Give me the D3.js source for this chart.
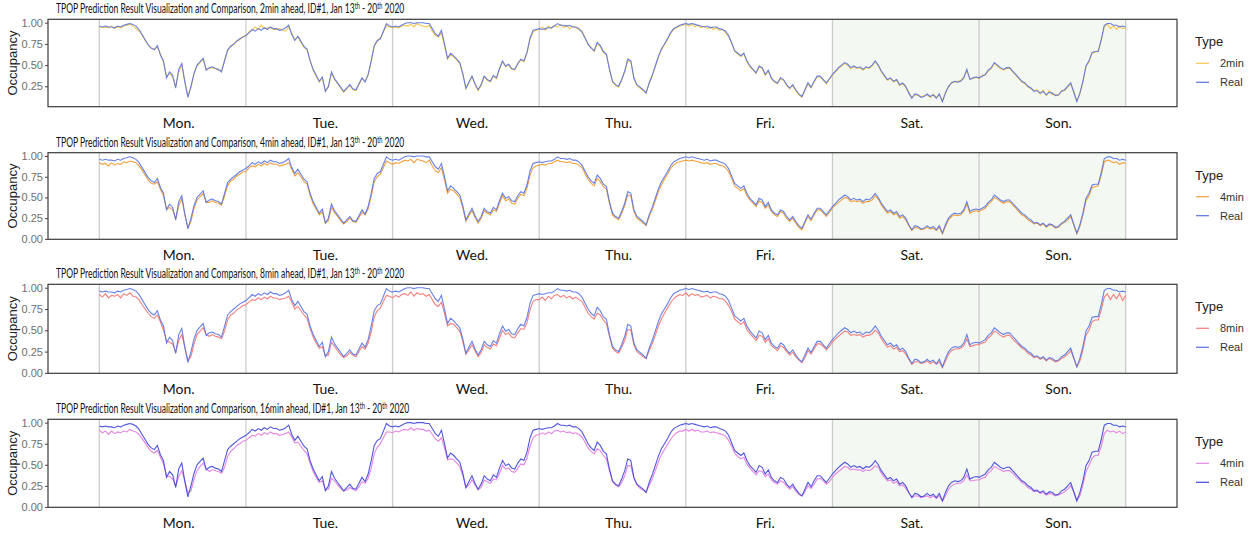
<!DOCTYPE html>
<html>
<head>
<meta charset="utf-8">
<script src="https://cdn.jsdelivr.net/npm/d3@7"></script>
<style>
  body { margin: 0; background: #fff; }
  svg { display: block; }
</style>
</head>
<body>
<div id="chart"></div>
<script>
// half-hourly occupancy, Mon 13 Jan 00:00 -> Mon 20 Jan 00:00
const days = ["Mon.", "Tue.", "Wed.", "Thu.", "Fri.", "Sat.", "Son."];
const horizons = ["2min", "4min", "8min", "16min"];
const legendNames = ["2min", "4min", "8min", "4min"];
const yTicksFirst = [0.25, 0.5, 0.75, 1];
const yTicks = [0, 0.25, 0.5, 0.75, 1];

const real = [
  0.96,0.95,0.96,0.95,0.95,0.94,0.96,0.95,0.97,0.98,0.99,0.98,0.96,0.92,0.86,0.80,0.74,0.70,0.68,0.73,0.62,0.55,0.35,0.42,0.38,0.23,0.45,0.52,0.30,0.12,0.25,0.40,0.50,0.54,0.58,0.44,0.47,0.48,0.46,0.45,0.42,0.55,0.68,0.72,0.75,0.78,0.81,0.83,
  0.85,0.88,0.92,0.90,0.93,0.91,0.94,0.92,0.95,0.93,0.93,0.91,0.92,0.94,0.97,0.86,0.79,0.84,0.78,0.72,0.69,0.55,0.45,0.38,0.31,0.36,0.19,0.25,0.42,0.34,0.29,0.24,0.19,0.23,0.27,0.22,0.21,0.28,0.35,0.30,0.39,0.55,0.73,0.79,0.81,0.90,0.99,0.96,
  0.95,0.96,0.95,0.97,0.99,1.00,1.00,0.99,1.00,1.00,1.00,0.99,0.99,0.93,0.87,0.84,0.91,0.75,0.58,0.64,0.61,0.57,0.53,0.40,0.23,0.30,0.37,0.28,0.21,0.27,0.37,0.33,0.31,0.38,0.35,0.46,0.55,0.49,0.51,0.46,0.45,0.52,0.57,0.55,0.65,0.82,0.91,0.92,
  0.93,0.92,0.93,0.94,0.94,0.96,0.99,0.97,0.97,0.96,0.97,0.95,0.95,0.93,0.89,0.82,0.75,0.70,0.67,0.77,0.73,0.66,0.63,0.45,0.31,0.27,0.25,0.33,0.43,0.57,0.55,0.35,0.27,0.24,0.21,0.17,0.29,0.38,0.49,0.60,0.69,0.75,0.81,0.88,0.93,0.95,0.97,0.98,
  0.99,0.98,0.99,0.98,0.97,0.96,0.95,0.96,0.94,0.95,0.95,0.93,0.92,0.90,0.85,0.76,0.67,0.64,0.61,0.64,0.55,0.49,0.45,0.41,0.49,0.47,0.39,0.44,0.35,0.31,0.29,0.35,0.33,0.27,0.23,0.27,0.21,0.16,0.13,0.21,0.29,0.24,0.31,0.37,0.37,0.33,0.29,0.34,
  0.39,0.43,0.47,0.50,0.53,0.51,0.47,0.49,0.47,0.48,0.45,0.48,0.47,0.50,0.55,0.50,0.43,0.38,0.33,0.35,0.31,0.33,0.27,0.29,0.25,0.17,0.11,0.16,0.15,0.12,0.13,0.16,0.13,0.15,0.11,0.16,0.07,0.17,0.25,0.29,0.31,0.30,0.31,0.35,0.45,0.33,0.35,0.36,
  0.35,0.37,0.39,0.44,0.47,0.53,0.50,0.47,0.45,0.47,0.47,0.43,0.39,0.35,0.31,0.29,0.25,0.23,0.19,0.20,0.17,0.19,0.15,0.18,0.17,0.14,0.15,0.19,0.21,0.25,0.29,0.18,0.07,0.17,0.31,0.49,0.55,0.65,0.66,0.66,0.80,0.97,0.99,0.99,0.97,0.97,0.95,0.96,0.95
];

const pred2 = [
  0.95,0.94,0.95,0.94,0.96,0.93,0.95,0.94,0.96,0.97,0.98,0.96,0.93,0.90,0.86,0.79,0.74,0.70,0.69,0.71,0.63,0.54,0.37,0.40,0.36,0.25,0.42,0.50,0.31,0.14,0.23,0.41,0.49,0.53,0.57,0.45,0.46,0.47,0.46,0.44,0.43,0.56,0.67,0.73,0.74,0.79,0.80,0.84,
  0.84,0.89,0.91,0.95,0.92,0.97,0.93,0.94,0.94,0.92,0.92,0.93,0.91,0.90,0.95,0.88,0.80,0.83,0.77,0.71,0.68,0.56,0.44,0.37,0.30,0.35,0.20,0.24,0.40,0.33,0.28,0.23,0.18,0.22,0.26,0.21,0.20,0.27,0.34,0.31,0.38,0.54,0.72,0.78,0.82,0.89,0.97,0.95,
  0.94,0.95,0.94,0.96,0.97,0.96,0.98,0.95,0.99,0.97,0.96,0.95,0.97,0.90,0.85,0.83,0.88,0.73,0.57,0.62,0.60,0.56,0.52,0.39,0.22,0.29,0.36,0.27,0.20,0.26,0.36,0.32,0.30,0.37,0.34,0.45,0.54,0.48,0.50,0.45,0.44,0.51,0.56,0.54,0.64,0.80,0.89,0.91,
  0.92,0.95,0.91,0.96,0.93,0.97,0.95,0.98,0.94,0.97,0.93,0.96,0.94,0.92,0.90,0.83,0.74,0.71,0.66,0.75,0.72,0.65,0.62,0.46,0.30,0.26,0.24,0.32,0.42,0.55,0.54,0.34,0.26,0.23,0.20,0.18,0.28,0.37,0.48,0.59,0.68,0.74,0.80,0.87,0.92,0.94,0.96,0.97,
  0.98,0.96,0.98,0.95,0.97,0.94,0.96,0.93,0.95,0.92,0.94,0.91,0.92,0.88,0.84,0.77,0.66,0.63,0.60,0.63,0.54,0.48,0.44,0.40,0.48,0.46,0.38,0.43,0.34,0.30,0.28,0.34,0.32,0.26,0.22,0.26,0.20,0.15,0.12,0.20,0.28,0.23,0.30,0.36,0.36,0.32,0.28,0.33,
  0.38,0.42,0.46,0.49,0.52,0.50,0.46,0.48,0.46,0.47,0.44,0.47,0.46,0.49,0.54,0.49,0.42,0.37,0.32,0.34,0.30,0.32,0.26,0.28,0.24,0.18,0.12,0.15,0.14,0.13,0.14,0.15,0.12,0.16,0.12,0.15,0.08,0.18,0.24,0.30,0.30,0.31,0.32,0.36,0.43,0.34,0.34,0.36,
  0.34,0.38,0.38,0.43,0.46,0.52,0.49,0.46,0.44,0.46,0.46,0.42,0.38,0.34,0.30,0.28,0.24,0.22,0.20,0.21,0.16,0.21,0.14,0.20,0.15,0.16,0.14,0.20,0.20,0.24,0.28,0.19,0.08,0.16,0.30,0.48,0.54,0.64,0.65,0.67,0.79,0.95,0.98,0.93,0.96,0.92,0.96,0.93,0.94
];

const pred4 = [
  0.92,0.90,0.91,0.88,0.92,0.89,0.91,0.90,0.93,0.92,0.94,0.93,0.92,0.88,0.83,0.77,0.71,0.67,0.66,0.69,0.60,0.52,0.36,0.38,0.35,0.24,0.40,0.48,0.29,0.14,0.21,0.37,0.47,0.51,0.55,0.44,0.44,0.46,0.44,0.43,0.41,0.52,0.64,0.70,0.72,0.76,0.78,0.81,
  0.81,0.86,0.88,0.87,0.90,0.88,0.91,0.89,0.92,0.90,0.90,0.88,0.89,0.90,0.92,0.84,0.76,0.80,0.75,0.69,0.66,0.53,0.42,0.36,0.29,0.33,0.19,0.22,0.38,0.32,0.27,0.22,0.18,0.21,0.25,0.21,0.20,0.26,0.32,0.29,0.36,0.51,0.69,0.75,0.78,0.86,0.94,0.92,
  0.90,0.92,0.91,0.93,0.95,0.94,0.96,0.92,0.96,0.95,0.94,0.92,0.95,0.88,0.82,0.80,0.86,0.71,0.55,0.60,0.58,0.54,0.50,0.37,0.21,0.28,0.34,0.26,0.19,0.25,0.34,0.31,0.29,0.35,0.33,0.43,0.52,0.46,0.48,0.43,0.42,0.49,0.54,0.52,0.61,0.77,0.86,0.88,
  0.89,0.90,0.89,0.91,0.91,0.93,0.95,0.93,0.93,0.92,0.93,0.91,0.91,0.89,0.86,0.79,0.72,0.67,0.64,0.73,0.69,0.63,0.60,0.43,0.29,0.25,0.23,0.31,0.40,0.53,0.52,0.33,0.25,0.22,0.19,0.16,0.27,0.35,0.46,0.57,0.65,0.72,0.78,0.85,0.89,0.92,0.93,0.94,
  0.95,0.94,0.95,0.94,0.93,0.92,0.91,0.92,0.90,0.91,0.91,0.89,0.88,0.86,0.81,0.73,0.64,0.61,0.58,0.61,0.52,0.47,0.43,0.39,0.46,0.44,0.37,0.41,0.33,0.29,0.27,0.33,0.31,0.25,0.21,0.25,0.19,0.14,0.11,0.19,0.27,0.22,0.29,0.35,0.35,0.31,0.27,0.32,
  0.37,0.41,0.44,0.47,0.50,0.49,0.45,0.46,0.45,0.46,0.43,0.45,0.45,0.47,0.52,0.48,0.41,0.36,0.31,0.33,0.29,0.31,0.25,0.27,0.23,0.16,0.10,0.14,0.13,0.11,0.12,0.14,0.12,0.13,0.10,0.14,0.06,0.15,0.23,0.27,0.29,0.28,0.29,0.33,0.42,0.31,0.33,0.34,
  0.33,0.35,0.37,0.42,0.45,0.50,0.48,0.45,0.43,0.45,0.45,0.41,0.37,0.33,0.29,0.27,0.23,0.21,0.18,0.19,0.16,0.18,0.14,0.17,0.16,0.13,0.14,0.18,0.20,0.23,0.27,0.17,0.06,0.15,0.29,0.46,0.52,0.62,0.63,0.64,0.77,0.93,0.95,0.94,0.92,0.93,0.90,0.92,0.91
];

const pred8 = [
  0.92,0.89,0.93,0.88,0.91,0.90,0.92,0.88,0.93,0.91,0.94,0.90,0.89,0.86,0.80,0.75,0.70,0.66,0.64,0.68,0.60,0.50,0.38,0.36,0.34,0.24,0.38,0.45,0.30,0.15,0.19,0.34,0.45,0.49,0.53,0.45,0.43,0.45,0.43,0.42,0.40,0.49,0.62,0.68,0.70,0.74,0.76,0.79,
  0.80,0.83,0.86,0.85,0.88,0.86,0.89,0.87,0.90,0.88,0.88,0.86,0.87,0.88,0.90,0.83,0.75,0.78,0.73,0.68,0.64,0.52,0.42,0.35,0.29,0.31,0.20,0.21,0.36,0.31,0.26,0.21,0.18,0.20,0.24,0.21,0.19,0.25,0.31,0.28,0.35,0.48,0.66,0.73,0.76,0.84,0.91,0.90,
  0.88,0.91,0.89,0.92,0.93,0.91,0.95,0.90,0.94,0.92,0.93,0.90,0.92,0.86,0.80,0.78,0.83,0.70,0.55,0.58,0.57,0.53,0.49,0.37,0.22,0.27,0.33,0.26,0.19,0.24,0.33,0.30,0.28,0.34,0.32,0.41,0.50,0.45,0.47,0.42,0.41,0.47,0.52,0.51,0.59,0.74,0.84,0.86,
  0.86,0.89,0.85,0.90,0.87,0.91,0.92,0.89,0.91,0.88,0.90,0.87,0.89,0.86,0.84,0.77,0.70,0.66,0.63,0.70,0.68,0.62,0.58,0.43,0.29,0.25,0.23,0.30,0.38,0.51,0.50,0.33,0.25,0.22,0.19,0.17,0.26,0.34,0.44,0.55,0.63,0.70,0.76,0.82,0.87,0.90,0.92,0.91,
  0.94,0.90,0.93,0.91,0.92,0.89,0.90,0.91,0.88,0.90,0.89,0.87,0.87,0.84,0.79,0.72,0.63,0.60,0.57,0.60,0.51,0.46,0.42,0.38,0.44,0.43,0.36,0.40,0.32,0.29,0.26,0.32,0.30,0.25,0.21,0.24,0.19,0.15,0.12,0.18,0.26,0.22,0.28,0.34,0.34,0.31,0.27,0.31,
  0.36,0.40,0.43,0.46,0.49,0.48,0.44,0.45,0.44,0.45,0.42,0.44,0.44,0.46,0.50,0.47,0.40,0.35,0.30,0.32,0.28,0.30,0.25,0.26,0.22,0.16,0.10,0.13,0.13,0.11,0.12,0.14,0.11,0.13,0.10,0.13,0.06,0.14,0.22,0.26,0.28,0.28,0.29,0.32,0.40,0.31,0.32,0.33,
  0.33,0.35,0.36,0.41,0.44,0.49,0.47,0.44,0.42,0.44,0.44,0.40,0.36,0.33,0.29,0.27,0.23,0.21,0.18,0.19,0.16,0.18,0.14,0.17,0.15,0.13,0.14,0.17,0.19,0.22,0.26,0.17,0.07,0.14,0.27,0.44,0.50,0.60,0.62,0.62,0.74,0.89,0.93,0.86,0.92,0.87,0.93,0.85,0.91
];

const pred16 = [
  0.91,0.88,0.90,0.86,0.90,0.87,0.89,0.88,0.90,0.89,0.92,0.90,0.89,0.86,0.81,0.76,0.70,0.66,0.64,0.67,0.59,0.51,0.37,0.36,0.33,0.25,0.36,0.43,0.31,0.17,0.19,0.33,0.43,0.48,0.52,0.45,0.42,0.44,0.43,0.42,0.40,0.47,0.60,0.66,0.69,0.73,0.75,0.78,
  0.79,0.82,0.85,0.84,0.87,0.85,0.88,0.86,0.89,0.87,0.87,0.85,0.86,0.87,0.89,0.83,0.76,0.77,0.72,0.67,0.63,0.52,0.42,0.35,0.29,0.31,0.21,0.21,0.34,0.31,0.26,0.22,0.19,0.20,0.23,0.21,0.19,0.24,0.30,0.28,0.34,0.46,0.63,0.71,0.75,0.82,0.89,0.89,
  0.88,0.90,0.89,0.91,0.92,0.91,0.94,0.91,0.93,0.92,0.92,0.90,0.91,0.86,0.81,0.78,0.82,0.70,0.56,0.57,0.56,0.52,0.48,0.37,0.23,0.26,0.32,0.26,0.20,0.23,0.32,0.30,0.28,0.33,0.32,0.40,0.49,0.45,0.46,0.42,0.41,0.46,0.51,0.50,0.58,0.72,0.82,0.85,
  0.86,0.88,0.86,0.89,0.87,0.90,0.91,0.89,0.90,0.88,0.89,0.87,0.88,0.86,0.83,0.77,0.70,0.66,0.63,0.69,0.67,0.61,0.57,0.43,0.30,0.26,0.24,0.29,0.37,0.49,0.49,0.34,0.26,0.22,0.20,0.18,0.25,0.33,0.43,0.53,0.62,0.68,0.74,0.80,0.85,0.88,0.90,0.90,
  0.92,0.90,0.92,0.90,0.91,0.89,0.89,0.90,0.88,0.89,0.88,0.87,0.86,0.84,0.79,0.72,0.64,0.60,0.57,0.59,0.51,0.46,0.42,0.38,0.43,0.42,0.36,0.39,0.32,0.29,0.27,0.31,0.29,0.25,0.21,0.24,0.19,0.15,0.13,0.18,0.25,0.22,0.27,0.33,0.34,0.31,0.27,0.30,
  0.35,0.39,0.42,0.45,0.48,0.47,0.44,0.45,0.44,0.44,0.42,0.44,0.43,0.45,0.49,0.47,0.40,0.35,0.31,0.32,0.28,0.30,0.25,0.26,0.22,0.17,0.11,0.13,0.13,0.11,0.12,0.13,0.11,0.13,0.10,0.13,0.07,0.13,0.21,0.25,0.27,0.28,0.28,0.31,0.38,0.31,0.31,0.32,
  0.32,0.34,0.35,0.40,0.43,0.48,0.46,0.44,0.42,0.43,0.43,0.40,0.36,0.33,0.29,0.27,0.23,0.21,0.18,0.19,0.16,0.17,0.14,0.16,0.15,0.13,0.14,0.16,0.18,0.21,0.25,0.18,0.08,0.13,0.26,0.42,0.49,0.58,0.61,0.61,0.72,0.87,0.91,0.89,0.90,0.88,0.90,0.87,0.89
];

const w = 1257;
const h = 533;

const panels = [
  { top: 19.3, bottom: 106.7, pred: pred2, ticks: yTicksFirst, yDomain: [0.01, 1.04], predColor: "#f7c64a", realColor: "#5673e3" },
  { top: 152.7, bottom: 239.3, pred: pred4, ticks: yTicks, yDomain: [-0.005, 1.04], predColor: "#f2a03c", realColor: "#5673e3" },
  { top: 284.3, bottom: 373.3, pred: pred8, ticks: yTicks, yDomain: [-0.005, 1.04], predColor: "#f5807d", realColor: "#5673e3" },
  { top: 419.3, bottom: 507.3, pred: pred16, ticks: yTicks, yDomain: [-0.005, 1.04], predColor: "#e685e2", realColor: "#3f45d9" }
];

const left = 48, right = 1177;
const x = d3.scaleLinear().domain([-8.4, 176.4]).range([left, right]);

const svg = d3.select("#chart").append("svg")
  .attr("width", w)
  .attr("height", h);

const titleFont = "Lato, 'Open Sans', sans-serif";
const axisFont = "'Liberation Sans', Arial, sans-serif";

panels.forEach(function (p, k) {
  const y = d3.scaleLinear().domain(p.yDomain).range([p.bottom, p.top]);
  const g = svg.append("g");

  // weekend shading
  g.append("rect")
    .attr("x", x(120))
    .attr("y", p.top)
    .attr("width", x(168) - x(120))
    .attr("height", p.bottom - p.top)
    .attr("fill", "#f3f8f2");

  // day boundaries
  g.selectAll("line.day")
    .data(d3.range(0, 8))
    .enter()
    .append("line")
    .attr("class", "day")
    .attr("x1", (d) => x(d * 24))
    .attr("x2", (d) => x(d * 24))
    .attr("y1", p.top)
    .attr("y2", p.bottom)
    .attr("stroke", "#cccccc")
    .attr("stroke-width", 1.3);

  const line = d3.line()
    .x((d, i) => x(i * 0.5))
    .y((d) => y(d));

  g.append("path")
    .datum(p.pred)
    .attr("d", line)
    .attr("fill", "none")
    .attr("stroke", p.predColor)
    .attr("stroke-width", 1.1);

  g.append("path")
    .datum(real)
    .attr("d", line)
    .attr("fill", "none")
    .attr("stroke", p.realColor)
    .attr("stroke-width", 1.1)
    .attr("stroke-opacity", 0.9);

  // frame
  g.append("rect")
    .attr("x", left)
    .attr("y", p.top)
    .attr("width", right - left)
    .attr("height", p.bottom - p.top)
    .attr("fill", "none")
    .attr("stroke", "#3a3a3a")
    .attr("stroke-width", 1.2);

  // y axis
  const yAxis = d3.axisLeft(y)
    .tickValues(p.ticks)
    .tickFormat(d3.format(".2f"))
    .tickSize(3)
    .tickPadding(2);

  const ya = g.append("g")
    .attr("transform", `translate(${left},0)`)
    .call(yAxis);
  ya.select(".domain").remove();
  ya.selectAll(".tick line").attr("stroke", "#444");
  ya.selectAll(".tick text")
    .attr("fill", "#6e6e6e")
    .style("font-family", axisFont)
    .style("font-size", "11px");

  g.append("text")
    .attr("transform", `translate(17,${(p.top + p.bottom) / 2}) rotate(-90)`)
    .attr("text-anchor", "middle")
    .style("font-family", axisFont)
    .style("font-size", "13px")
    .attr("fill", "#222")
    .text("Occupancy");

  // day labels
  g.selectAll("text.dayLabel")
    .data(days)
    .enter()
    .append("text")
    .attr("class", "dayLabel")
    .attr("x", (d, i) => x(i * 24 + 13))
    .attr("y", p.bottom + 21)
    .attr("text-anchor", "middle")
    .style("font-family", titleFont)
    .style("font-size", "14px")
    .attr("fill", "#111")
    .text((d) => d);

  // title, narrowed afterwards to the reference width
  const tg = g.append("g")
    .attr("class", "titleBox")
    .attr("data-y", p.top - 6);
  const t = tg.append("text")
    .attr("x", 0)
    .attr("y", 0)
    .style("font-family", titleFont)
    .style("font-size", "13px")
    .attr("fill", "#111");
  t.append("tspan").text(`TPOP Prediction Result Visualization and Comparison, ${horizons[k]} ahead, ID#1, Jan 13`);
  t.append("tspan").attr("dy", -4).style("font-size", "8.5px").text("th");
  t.append("tspan").attr("dy", 4).text(" - 20");
  t.append("tspan").attr("dy", -4).style("font-size", "8.5px").text("th");
  t.append("tspan").attr("dy", 4).text(" 2020");

  // legend
  const lg = g.append("g").attr("transform", `translate(1195,${p.top})`);
  lg.append("text")
    .attr("x", 0)
    .attr("y", 27)
    .style("font-family", axisFont)
    .style("font-size", "13px")
    .attr("fill", "#222")
    .text("Type");
  [[legendNames[k], p.predColor], ["Real", p.realColor]].forEach(function (e, j) {
    const yy = 44 + j * 19;
    lg.append("line")
      .attr("x1", 1).attr("x2", 14)
      .attr("y1", yy).attr("y2", yy)
      .attr("stroke", e[1])
      .attr("stroke-width", 1.2);
    lg.append("text")
      .attr("x", 25)
      .attr("y", yy + 4)
      .style("font-family", axisFont)
      .style("font-size", "11px")
      .attr("fill", "#333")
      .text(e[0]);
  });
});

// Calibri-like narrow title: squeeze horizontally so the 2min title is ~349px wide
const firstW = svg.select("g.titleBox text").node().getBBox().width;
const sx = firstW > 0 ? 349 / firstW : 1;
svg.selectAll("g.titleBox").each(function () {
  const yy = +this.getAttribute("data-y");
  d3.select(this).attr("transform", `translate(56,${yy}) scale(${sx},1)`);
});
</script>
</body>
</html>
